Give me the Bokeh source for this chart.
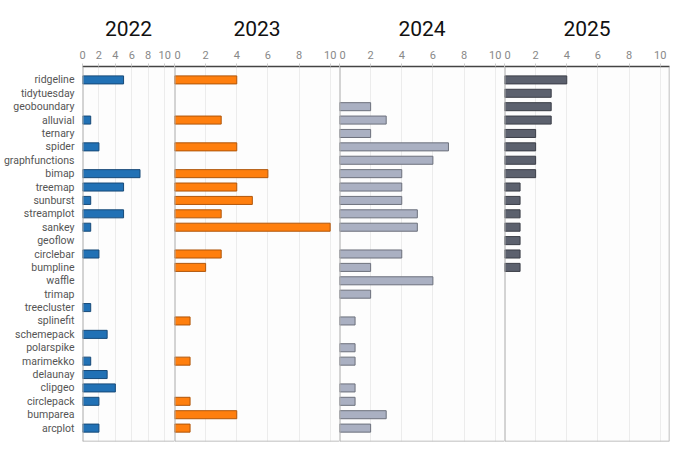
from bokeh.plotting import figure
from bokeh.layouts import row
from bokeh.models import ColumnDataSource, Span, FixedTicker
from bokeh.embed import file_html
from bokeh.resources import INLINE

categories = ["ridgeline", "tidytuesday", "geoboundary", "alluvial", "ternary", "spider",
              "graphfunctions", "bimap", "treemap", "sunburst", "streamplot", "sankey",
              "geoflow", "circlebar", "bumpline", "waffle", "trimap", "treecluster",
              "splinefit", "schemepack", "polarspike", "marimekko", "delaunay", "clipgeo",
              "circlepack", "bumparea", "arcplot"]

years = ["2022", "2023", "2024", "2025"]

v2022 = [5, 0, 0, 1, 0, 2, 0, 7, 5, 1, 5, 1, 0, 2, 0, 0, 0, 1, 0, 3, 0, 1, 3, 4, 2, 0, 2]
v2023 = [4, 0, 0, 3, 0, 4, 0, 6, 4, 5, 3, 10, 0, 3, 2, 0, 0, 0, 1, 0, 0, 1, 0, 0, 1, 4, 1]
v2024 = [0, 0, 2, 3, 2, 7, 6, 4, 4, 4, 5, 5, 0, 4, 2, 6, 2, 0, 1, 0, 1, 1, 0, 1, 1, 3, 2]
v2025 = [4, 3, 3, 3, 2, 2, 2, 2, 1, 1, 1, 1, 1, 1, 1, 0, 0, 0, 0, 0, 0, 0, 0, 0, 0, 0, 0]

series = [v2022, v2023, v2024, v2025]
fills = ["#2171b5", "#ff7f0e", "#aab0c2", "#5c616e"]
lines = ["#174a78", "#b0560a", "#6c707c", "#3b3e47"]

FONT = "Roboto"
n = len(categories)
positions = list(range(1, n + 1))

figs = []
for i, (yr, vals) in enumerate(zip(years, series)):
    first = i == 0
    last = i == len(years) - 1
    xend = 11.2 if first else 10.6
    width = 174 if first else (170 if last else 165)
    p = figure(width=width, height=446, x_range=(0, xend), y_range=(n + 1, 0),
               output_backend="svg", toolbar_location=None, x_axis_location="above",
               min_border_left=81 if first else 0, min_border_right=5 if last else 0,
               min_border_top=66, min_border_bottom=5, title=yr)
    p.title.align = "center"
    p.title.text_font = FONT
    p.title.text_font_size = "21px"
    p.title.text_font_style = "normal"
    p.title.text_color = "#111111"
    p.title.standoff = 24
    p.outline_line_color = None
    p.background_fill_color = "#fdfdfd"
    p.border_fill_color = "white"

    xs = [v for v in vals if v > 0]
    ys = [pos for pos, v in zip(positions, vals) if v > 0]
    src = ColumnDataSource(dict(y=ys, v=xs))
    p.hbar(y="y", right="v", left=0, height=0.6, source=src,
           fill_color=fills[i], line_color=lines[i], line_width=1)

    p.xaxis.ticker = FixedTicker(ticks=[0, 2, 4, 6, 8, 10])
    p.xaxis.axis_line_color = "#444444"
    p.xaxis.axis_line_width = 1.5
    p.xaxis.major_tick_line_color = "#cccccc"
    p.xaxis.major_tick_out = 3
    p.xaxis.major_tick_in = 0
    p.xaxis.minor_tick_line_color = None
    p.xaxis.major_label_text_font = FONT
    p.xaxis.major_label_text_font_size = "11px"
    p.xaxis.major_label_text_color = "#888888"
    p.xaxis.major_label_standoff = 5

    p.xgrid.ticker = FixedTicker(ticks=[2, 4, 6, 8, 10])
    p.xgrid.grid_line_color = "#ececec"
    p.ygrid.grid_line_color = None

    if first:
        p.yaxis.ticker = FixedTicker(ticks=positions)
        p.yaxis.major_label_overrides = {pos: c for pos, c in zip(positions, categories)}
        p.yaxis.axis_line_color = None
        p.yaxis.major_tick_line_color = None
        p.yaxis.minor_tick_line_color = None
        p.yaxis.major_label_text_font = FONT
        p.yaxis.major_label_text_font_size = "10.5px"
        p.yaxis.major_label_text_color = "#555555"
        p.yaxis.major_label_standoff = 2
    else:
        p.yaxis.visible = False

    p.add_layout(Span(location=0, dimension="height", line_color="#aaaaaa", line_width=2))
    p.add_layout(Span(location=n + 1, dimension="width", line_color="#aaaaaa", line_width=1.5))
    if last:
        p.add_layout(Span(location=xend, dimension="height", line_color="#aaaaaa", line_width=1.5))
    figs.append(p)

layout = row(*figs, spacing=0)
open("out.html", "w").write(file_html(layout, INLINE))
